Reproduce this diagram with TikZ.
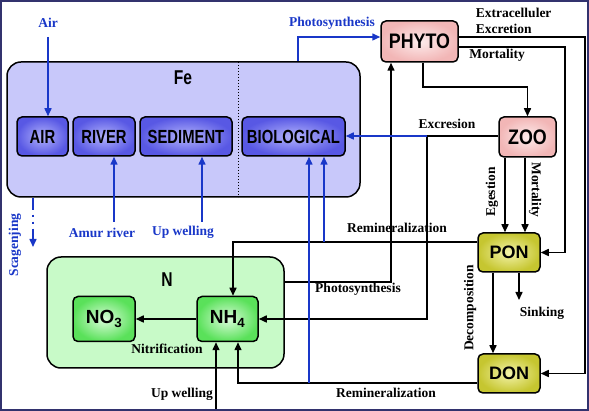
\documentclass[tikz,border=0pt]{standalone}
\usepackage{fontspec}
\setmainfont{Liberation Serif}
\newfontfamily\boxfont[FakeStretch=0.78]{Liberation Sans}
\newfontfamily\bugfont[FakeStretch=0.85]{Liberation Sans}
\newfontfamily\detfont{Liberation Sans}
\usetikzlibrary{arrows.meta}
\definecolor{fefill}{RGB}{200,200,250}
\definecolor{bioout}{RGB}{88,88,228}
\definecolor{bioin}{RGB}{178,178,252}
\definecolor{nfill}{RGB}{200,250,200}
\definecolor{nout}{RGB}{90,225,90}
\definecolor{nin}{RGB}{218,252,218}
\definecolor{pinkout}{RGB}{242,182,182}
\definecolor{pinkin}{RGB}{253,236,236}
\definecolor{ponout}{RGB}{198,198,48}
\definecolor{ponin}{RGB}{243,243,170}
\definecolor{lineblue}{RGB}{25,55,200}
\definecolor{framecol}{RGB}{50,50,110}
\begin{document}
\begin{tikzpicture}[x=1pt, y=-1pt, >={Triangle[length=8pt,width=7pt]}, line width=1.5pt]
\tikzstyle{bigbox}=[draw, rounded corners=14pt, line width=1.5pt]
\tikzstyle{febox}=[draw, rounded corners=5pt, line width=1.5pt, shade, inner color=bioin, outer color=bioout, minimum height=39pt, inner sep=1pt, font=\boxfont\bfseries\fontsize{19}{19}\selectfont]
\tikzstyle{nbox}=[febox, inner color=nin, outer color=nout, minimum height=45pt, font=\detfont\bfseries\fontsize{19}{19}\selectfont]
\tikzstyle{bugbox}=[febox, inner color=pinkin, outer color=pinkout, font=\bugfont\bfseries\fontsize{21}{21}\selectfont]
\tikzstyle{detbox}=[febox, inner color=ponin, outer color=ponout, font=\detfont\bfseries\fontsize{18}{18}\selectfont]
\tikzstyle{lbl}=[inner sep=0pt, font=\bfseries\fontsize{13.5}{13.5}\selectfont]
\tikzstyle{blbl}=[lbl, text=lineblue]
\tikzstyle{title}=[inner sep=0pt, font=\boxfont\bfseries\fontsize{20}{20}\selectfont]
\useasboundingbox (0,0) rectangle (589,411);
%
\node[bigbox, fill=fefill, minimum width=353pt, minimum height=135pt](fe) at (183.5,129.5) {};
\node[title](felbl) at (183,78) {Fe};
\draw[line width=1pt, dotted] (238,62) -- (238,197);
\node[febox, minimum width=51pt](air) at (42.5,136.5) {AIR};
\node[febox, minimum width=62pt](river) at (104,136.5) {RIVER};
\node[febox, minimum width=92pt](sediment) at (186,136.5) {SEDIMENT};
\node[febox, minimum width=103pt](bio) at (293.5,136.5) {BIOLOGICAL};
%
\node[bigbox, fill=nfill, minimum width=237pt, minimum height=111pt](nbig) at (165.5,312.5) {};
\node[title](nlbl) at (167,280) {N};
\node[nbox, minimum width=62pt](no3) at (104,319) {NO\textsubscript{3}};
\node[nbox, minimum width=61pt](nh4) at (227.5,319) {NH\textsubscript{4}};
%
\node[bugbox, minimum width=77pt, minimum height=41pt](phyto) at (419.5,41.5) {PHYTO};
\node[bugbox, minimum width=57pt, minimum height=40pt](zoo) at (527.5,137) {ZOO};
\node[detbox, minimum width=62pt](pon) at (509,252.5) {PON};
\node[detbox, minimum width=62pt](don) at (509,373.5) {DON};
%
% sources and sinks of Fe
\node[blbl](airlbl) at (48,23) {Air};
\coordinate (airsrc) at (48,37);
\draw[->, lineblue] (airsrc) -- (airsrc |- air.north);
\node[blbl](amurlbl) at (102,233) {Amur river};
\coordinate (riversrc) at (114,222);
\draw[->, lineblue] (riversrc) -- (riversrc |- river.south);
\node[blbl](upwlbl1) at (183,232) {Up welling};
\coordinate (sedsrc) at (202,222);
\draw[->, lineblue] (sedsrc) -- (sedsrc |- sediment.south);
\node[blbl, rotate=90](scavlbl) at (15,245) {Scagenjing};
\coordinate (scav) at (33,247);
\draw[->, lineblue, dash pattern=on 12pt off 5pt on 2pt off 5pt on 2pt off 5pt] (scav |- fe.south) -- (scav);
%
% plankton
\coordinate (photoin) at (298,37);
\draw[->, lineblue] (photoin |- fe.north) -- (photoin) -- (photoin -| phyto.west);
\node[blbl](photolbl1) at (332,23) {Photosynthesis};
\node[lbl, anchor=west](extralbl) at (475,13) {Extracelluler};
\node[lbl, anchor=west](excrlbl) at (475,29) {Excretion};
\coordinate (excbend) at (585,37);
\draw[->] (excbend -| phyto.east) -- (excbend) |- (don.east);
\node[lbl](mortlbl1) at (497,55) {Mortality};
\coordinate (mortbend) at (565,47);
\draw[->] (mortbend -| phyto.east) -- (mortbend) |- (pon.east);
\coordinate (grazebend) at (423,87);
\draw[->] (grazebend |- phyto.south) -- (grazebend) -| (zoo.north);
\draw[->] (zoo.south -| 505,0) -- (pon.north -| 505,0);
\draw[->] (zoo.south -| 525,0) -- (pon.north -| 525,0);
\node[lbl, rotate=90](egelbl) at (492,192) {Egestion};
\node[lbl, rotate=-90](mortlbl2) at (535,190) {Mortality};
%
% excretion of zoo
\coordinate (excsplit) at (427,136);
\node[lbl](exclbl) at (447,124) {Excresion};
\draw (zoo.west |- excsplit) -- (excsplit);
\draw[->] (excsplit) |- (nh4.east);
%
% uptake of NH4
\coordinate (uptake) at (391,282);
\draw[->] (uptake -| nbig.east) -- (uptake) -- (uptake |- phyto.south);
\node[lbl](photolbl2) at (358,289) {Photosynthesis};
%
% detritus
\coordinate (reminA) at (233,242);
\draw[->] (pon.west |- reminA) -- (reminA) -- (reminA |- nh4.north);
\node[lbl](reminlbl1) at (397,228) {Remineralization};
\draw[->] (pon.south -| 493,0) -- (don.north -| 493,0);
\node[lbl, rotate=90](decolbl) at (470,308) {Decomposition};
\coordinate (sink) at (519,300);
\draw[->] (sink |- pon.south) -- (sink);
\node[lbl](sinklbl) at (542,313) {Sinking};
\coordinate (reminB) at (238,383);
\draw[->] (don.west |- reminB) -- (reminB) -- (reminB |- nh4.south);
\node[lbl](reminlbl2) at (386,393) {Remineralization};
%
\coordinate (upw) at (216,411);
\draw[->] (upw) -- (upw |- nh4.south);
\node[lbl](upwlbl2) at (182,394) {Up welling};
\draw[->] (nh4.west) -- (no3.east);
\node[lbl](nitrlbl) at (167,349) {Nitrification};
%
% Fe taken up by biology
\draw[->, lineblue] (excsplit) -- (excsplit -| bio.east);
\coordinate (bioA) at (324,242);
\draw[->, lineblue] (bioA) -- (bioA |- bio.south);
\coordinate (bioB) at (309,383);
\draw[->, lineblue] (bioB) -- (bioB |- bio.south);
%
\draw[framecol, line width=2pt] (1,1) rectangle (588,410);
\end{tikzpicture}
\end{document}
